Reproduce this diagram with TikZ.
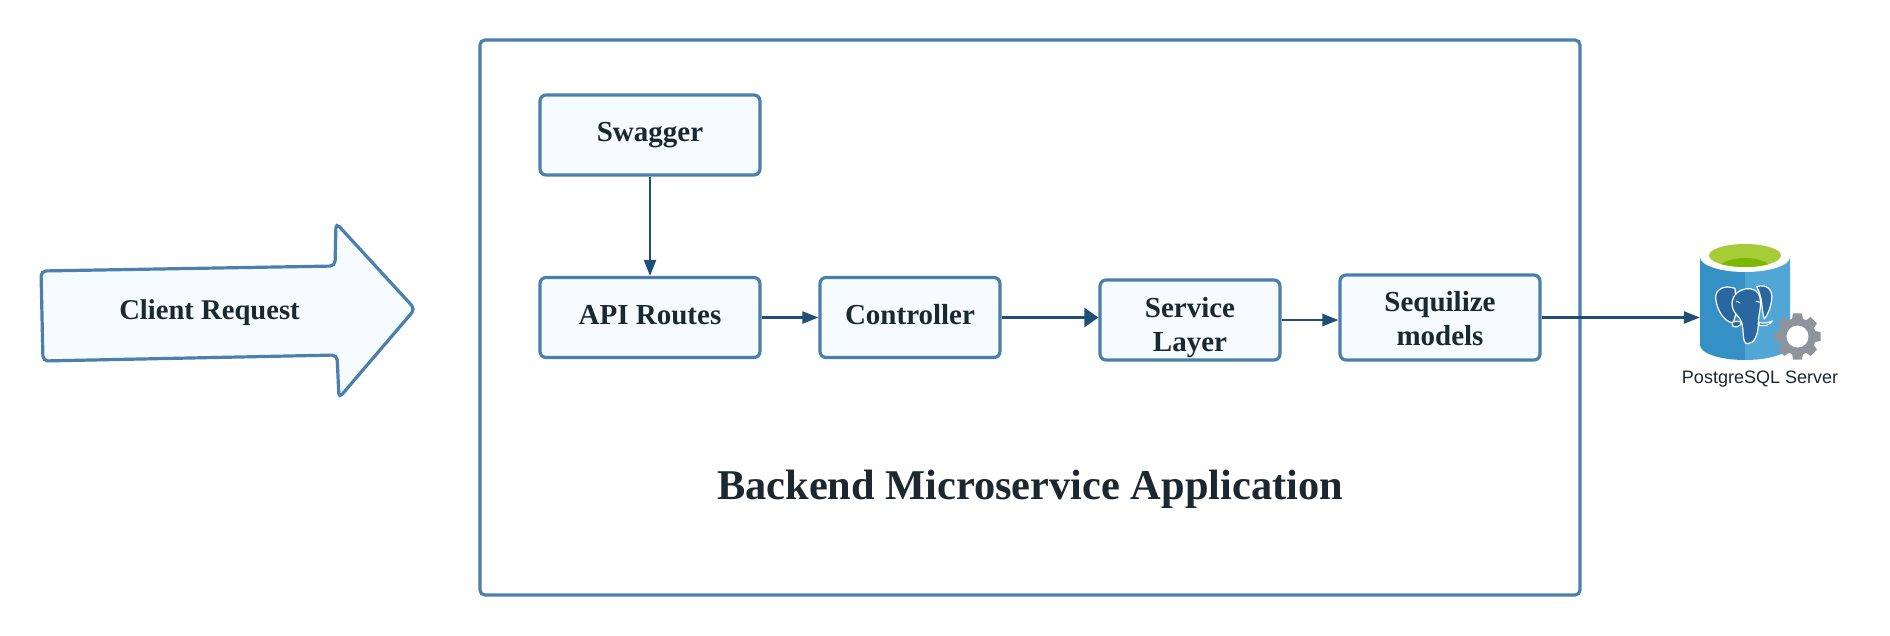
\documentclass[tikz,border=0pt]{standalone}
\usepackage{fontspec}
\setmainfont{Liberation Serif}
\newfontfamily\labelsans{Liberation Sans}
\usetikzlibrary{arrows.meta,calc}
\definecolor{edgeblue}{HTML}{4A7FAE}
\definecolor{fillblue}{HTML}{F5FBFF}
\definecolor{linkblue}{HTML}{1F4E78}
\definecolor{inkdark}{HTML}{1C2830}
\definecolor{cylL}{HTML}{3590C6}
\definecolor{cylR}{HTML}{50A6D5}
\definecolor{elephant}{HTML}{2A67A0}
\definecolor{gearg}{HTML}{8E949C}
\definecolor{limeA}{HTML}{A6CC38}
\definecolor{limeB}{HTML}{7DB800}
\newcommand{\lineshift}[2]{\raisebox{#1}[20pt][6pt]{#2}}
\tikzset{
  x=1pt,y=-1pt,
  panel/.style={draw=edgeblue,line width=3.2pt,rounded corners=5pt,inner sep=0pt},
  blockbox/.style={draw=edgeblue,fill=fillblue,line width=3.2pt,rounded corners=6pt,inner sep=0pt,
     text=inkdark,align=center,font=\fontsize{29}{34}\selectfont\bfseries},
  link/.style={draw=linkblue,line width=2.3pt,-{Triangle[length=16pt,width=12pt]}},
  biglink/.style={draw=linkblue,line width=2.3pt,-{Triangle[length=14pt,width=19pt]}},
  elephantpart/.style={fill=elephant,draw=white,line width=1.2pt,line join=round},
}
\begin{document}
\begin{tikzpicture}
\useasboundingbox (0,0) rectangle (1890,635);
\fill[white] (0,0) rectangle (1890,635);
% client arrow
\draw[draw=edgeblue,fill=fillblue,line width=3.2pt,rounded corners=5pt]
  (41,271) -- (335,266) -- (336,223) -- (415,309) -- (339,398) -- (337,355) -- (43,361) -- cycle;
\node[text=inkdark,font=\fontsize{28.6}{34}\selectfont\bfseries] (client) at (209.5,313) {Client Request};
% backend panel
\node[panel,minimum width=1100pt,minimum height=555pt] (backend) at (1030,317.5) {};
\node[text=inkdark,font=\fontsize{42.4}{50}\selectfont\bfseries] (title) at (1030,489) {Backend Microservice Application};
% blocks
\node[blockbox,minimum width=220pt,minimum height=80pt] (swagger) at (650,135) {\raisebox{7pt}{Swagger}};
\node[blockbox,minimum width=220pt,minimum height=80pt] (api) at (650,317.5) {\raisebox{6pt}{API Routes}};
\node[blockbox,minimum width=180pt,minimum height=80pt] (controller) at (910,317.5) {\raisebox{6pt}{Controller}};
\node[blockbox,minimum width=180pt,minimum height=80pt] (service) at (1190,320) {\lineshift{-7pt}{Service}\\\lineshift{-7pt}{Layer}};
\node[blockbox,minimum width=200pt,minimum height=85pt] (sequilize) at (1440,317.5) {\lineshift{-4pt}{Sequilize}\\\lineshift{-4pt}{models}};
% database icon
\node[minimum width=90pt,minimum height=118pt,inner sep=0pt] (db) at (1745,301) {};
\fill[cylL] (1700,258) -- (1700,345) .. controls (1700,353.3) and (1720,360) .. (1745,360) -- (1745,258) -- cycle;
\fill[cylR] (1790,258) -- (1790,345) .. controls (1790,353.3) and (1770,360) .. (1745,360) -- (1745,258) -- cycle;
\fill[white] (1745,257) ellipse [x radius=45,y radius=15];
\begin{scope}
  \clip (1745,255.5) ellipse [x radius=36,y radius=11.5];
  \fill[limeA] (1700,240) rectangle (1790,270);
  \fill[limeB] (1745,269) ellipse [x radius=26,y radius=11];
\end{scope}
\begin{scope}[shift={(1695,235)},x=0.3333pt,y=-0.3333pt]
  % ears
  \draw[elephantpart] (120,160) .. controls (85,148) and (60,165) .. (62,190)
     .. controls (64,220) and (85,260) .. (114,264) -- (125,230) -- cycle;
  \draw[elephantpart] (185,155) .. controls (215,145) and (235,165) .. (230,195)
     .. controls (226,220) and (218,240) .. (208,252)
     .. controls (198,225) and (205,190) .. (185,155) -- cycle;
  % tusks
  \draw[elephantpart] (112,262) .. controls (118,258) and (132,258) .. (140,262) .. controls (138,275) and (118,280) .. (112,272) -- cycle;
  \draw[elephantpart] (192,262) .. controls (205,268) and (222,262) .. (232,258) .. controls (225,270) and (205,275) .. (192,270) -- cycle;
  % head and trunk
  \draw[elephantpart] (112,215) .. controls (102,165) and (170,145) .. (190,175)
     .. controls (205,205) and (190,235) .. (190,262)
     .. controls (190,300) and (178,326) .. (158,326)
     .. controls (140,326) and (148,290) .. (140,262)
     .. controls (135,245) and (118,240) .. (112,215) -- cycle;
  % eyes
  \draw[white,line width=1pt] (124,198) -- (136,204) (182,198) -- (194,202);
\end{scope}
% gear
\begin{scope}[shift={(1797.5,336.5)}]
  \fill[gearg] (-11:23.5)
    \foreach \a in {0,45,...,315} {
      -- (\a-11:23.5) -- (\a+11:23.5) -- (\a+17:18.5) -- (\a+28:18.5)
    } -- cycle;
  \fill[white] (0,0) circle[radius=11];
\end{scope}
\node[text=inkdark,inner sep=0pt,font=\fontsize{18}{22}\selectfont\labelsans] (pglabel) at (1760,379.5) {PostgreSQL Server};
% connectors
\draw[link] (swagger.south) -- (api.north);
\draw[link] (api.east) -- (controller.west);
\draw[biglink] (controller.east) -- (controller.east -| service.west);
\draw[link] (service.east) -- (service.east -| sequilize.west);
\draw[link] (sequilize.east) -- (sequilize.east -| db.west);
\end{tikzpicture}
\end{document}
